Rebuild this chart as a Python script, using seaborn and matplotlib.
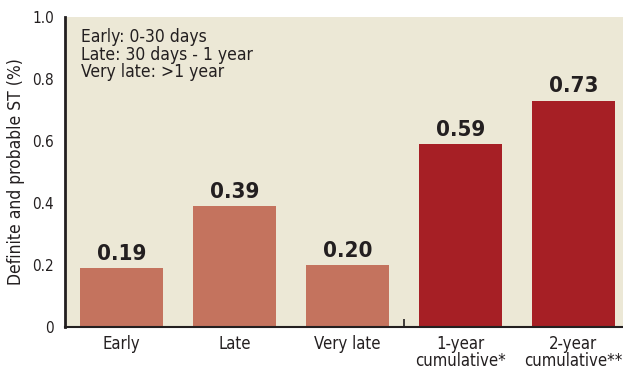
import matplotlib
matplotlib.use("Agg")
import matplotlib.pyplot as plt
from matplotlib.ticker import FixedLocator
import seaborn as sns
import pandas as pd

categories = ["Early", "Late", "Very late", "1-year\ncumulative*", "2-year\ncumulative**"]
values = [0.19, 0.39, 0.20, 0.59, 0.73]
value_labels = ["0.19", "0.39", "0.20", "0.59", "0.73"]
groups = ["timing", "timing", "timing", "cumulative", "cumulative"]
yticks = [0, 0.2, 0.4, 0.6, 0.8, 1.0]
ytick_labels = ["0", "0.2", "0.4", "0.6", "0.8", "1.0"]
note_lines = ["Early: 0-30 days", "Late: 30 days - 1 year", "Very late: >1 year"]

sns.set_style("white")
plt.rcParams["font.family"] = ["DejaVu Sans"]
plt.rcParams["font.stretch"] = "condensed"

df = pd.DataFrame({"cat": categories, "val": values, "grp": groups})
palette = {"timing": "#C4735E", "cumulative": "#A61F25"}

fig = plt.figure(figsize=(6.23, 3.69), dpi=100)
ax = fig.add_axes([65/623, 1 - 327/369, 1 - 65/623, 310/369])
ax.set_facecolor("#ECE8D6")

sns.barplot(data=df, x="cat", y="val", hue="grp", palette=palette, dodge=False,
            legend=False, width=0.735, saturation=1, linewidth=0, ax=ax)

for i, (v, lab) in enumerate(zip(values, value_labels)):
    ax.text(i, v + 0.014, lab, ha="center", va="bottom", fontsize=16,
            fontweight="bold", color="#231F20")

ax.set_xlim(-0.5, 4.44)
ax.set_ylim(0, 1.0)
ax.set_yticks(yticks)
ax.set_yticklabels(ytick_labels, fontsize=11, color="#231F20")
ax.tick_params(axis="x", which="major", length=0, colors="#231F20", pad=6)
ax.tick_params(axis="y", length=5, width=1.2, direction="out", color="#231F20", pad=3)
ax.set_xticks(range(len(categories)))
ax.set_xticklabels(categories, fontsize=12, linespacing=0.9)
ax.xaxis.set_minor_locator(FixedLocator([2.5]))
ax.tick_params(axis="x", which="minor", bottom=True, length=6, width=1.2, direction="in",
               color="#231F20")
ax.set_xlabel("")
ax.set_ylabel("Definite and probable ST (%)", fontsize=12.5, color="#231F20", labelpad=5)

for s in ["top", "right"]:
    ax.spines[s].set_visible(False)
ax.spines["left"].set_linewidth(2)
ax.spines["left"].set_color("#231F20")
ax.spines["bottom"].set_linewidth(1.5)
ax.spines["bottom"].set_color("#231F20")

ax.text(0.028, 0.965, "\n".join(note_lines), transform=ax.transAxes, ha="left", va="top",
        fontsize=12.5, color="#231F20", linespacing=0.98)

fig.savefig("out.png", dpi=100, facecolor="white")
